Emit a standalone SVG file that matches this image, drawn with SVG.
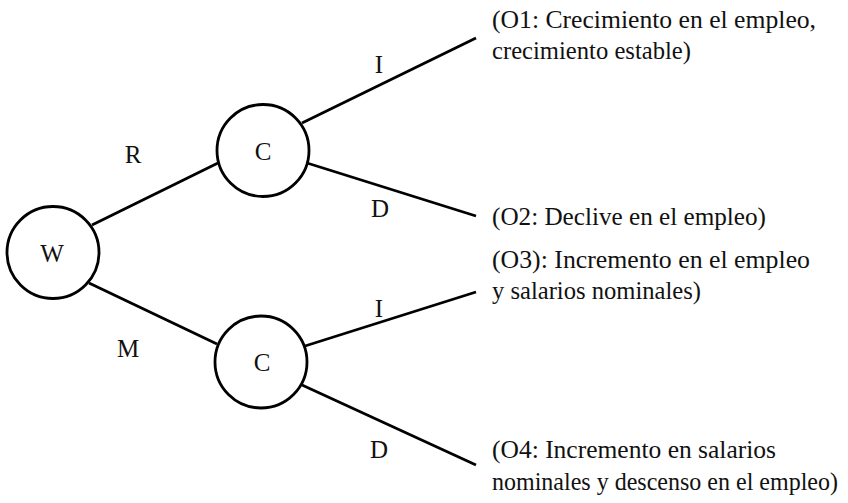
<svg xmlns="http://www.w3.org/2000/svg" width="848" height="503" viewBox="0 0 848 503">
<style>
.n{fill:#fff;stroke:#000;stroke-width:2.8}
.e{stroke:#000;stroke-width:2.8;fill:none;stroke-linecap:butt}
.lb{font-size:25px;text-anchor:middle}
.o{font-size:24.5px}
</style>
<rect width="848" height="503" fill="#fff"/>
<g font-family="'Liberation Serif', 'DejaVu Serif', serif" fill="#111">
<g id="connectors">
<line class="e" x1="92" y1="225" x2="218" y2="163"/>
<line class="e" x1="89" y1="283" x2="217" y2="344"/>
<line class="e" x1="302" y1="123" x2="476" y2="38"/>
<line class="e" x1="307" y1="163" x2="476" y2="216"/>
<line class="e" x1="305" y1="346" x2="476" y2="292"/>
<line class="e" x1="302" y1="385" x2="476" y2="465"/>
<text class="lb" x="133" y="163">R</text>
<text class="lb" x="128" y="357">M</text>
<text class="lb" x="379" y="73">I</text>
<text class="lb" x="380" y="217">D</text>
<text class="lb" x="379" y="317">I</text>
<text class="lb" x="379" y="458">D</text>
</g>
<g id="W"><circle class="n" cx="53" cy="252.5" r="46"/><text class="lb" x="52" y="262">W</text></g>
<g id="C1"><circle class="n" cx="263" cy="150.5" r="46"/><text class="lb" x="263" y="160">C</text></g>
<g id="C2"><circle class="n" cx="261" cy="362" r="46"/><text class="lb" x="262" y="371">C</text></g>
<g id="O1"><text class="o" x="492" y="28" textLength="324" lengthAdjust="spacingAndGlyphs">(O1: Crecimiento en el empleo,</text><text class="o" x="492" y="59" textLength="199" lengthAdjust="spacingAndGlyphs">crecimiento estable)</text></g>
<g id="O2"><text class="o" x="492" y="225" textLength="274" lengthAdjust="spacingAndGlyphs">(O2: Declive en el empleo)</text></g>
<g id="O3"><text class="o" x="492" y="268" textLength="318" lengthAdjust="spacingAndGlyphs">(O3): Incremento en el empleo</text><text class="o" x="492" y="299" textLength="209" lengthAdjust="spacingAndGlyphs">y salarios nominales)</text></g>
<g id="O4"><text class="o" x="492" y="458" textLength="284" lengthAdjust="spacingAndGlyphs">(O4: Incremento en salarios</text><text class="o" x="492" y="490" textLength="346" lengthAdjust="spacingAndGlyphs">nominales y descenso en el empleo)</text></g>
</g>
</svg>
